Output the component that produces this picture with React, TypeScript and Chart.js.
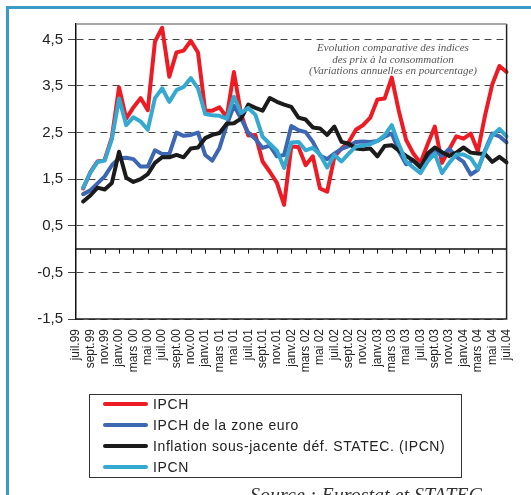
import React, { useEffect, useRef } from 'react';
import { Chart, registerables } from 'chart.js';

Chart.register(...registerables);

const months = [
  'juil.99', 'août 99', 'sept.99', 'oct.99', 'nov.99', 'déc.99',
  'janv.00', 'févr.00', 'mars 00', 'avr.00', 'mai 00', 'juin 00',
  'juil.00', 'août 00', 'sept.00', 'oct.00', 'nov.00', 'déc.00',
  'janv.01', 'févr.01', 'mars 01', 'avr.01', 'mai 01', 'juin 01',
  'juil.01', 'août 01', 'sept.01', 'oct.01', 'nov.01', 'déc.01',
  'janv.02', 'févr.02', 'mars 02', 'avr.02', 'mai 02', 'juin 02',
  'juil.02', 'août 02', 'sept.02', 'oct.02', 'nov.02', 'déc.02',
  'janv.03', 'févr.03', 'mars 03', 'avr.03', 'mai 03', 'juin 03',
  'juil.03', 'août 03', 'sept.03', 'oct.03', 'nov.03', 'déc.03',
  'janv.04', 'févr.04', 'mars 04', 'avr.04', 'mai 04', 'juin 04',
  'juil.04',
];

const ipch = [null, 1.3, 1.65, 1.88, 1.92, 2.4, 3.47, 2.8, 3.04, 3.24, 2.98, 4.45, 4.75, 3.7, 4.22, 4.26, 4.47, 4.22, 2.97, 2.97, 3.04, 2.83, 3.8, 2.9, 2.44, 2.45, 1.88, 1.66, 1.42, 0.95, 2.2, 2.19, 1.8, 1.99, 1.3, 1.23, 1.98, 2.16, 2.3, 2.56, 2.66, 2.82, 3.21, 3.23, 3.68, 2.95, 2.34, 2.05, 1.85, 2.25, 2.63, 1.85, 2.14, 2.42, 2.37, 2.48, 2.1, 2.87, 3.53, 3.93, 3.8];

const ipchZoneEuro = [null, 1.18, 1.26, 1.41, 1.56, 1.8, 1.95, 1.96, 1.93, 1.77, 1.77, 2.12, 2.04, 2.04, 2.5, 2.43, 2.45, 2.5, 2.02, 1.9, 2.17, 2.66, 3.08, 2.8, 2.5, 2.36, 2.17, 2.22, 1.99, 2.02, 2.64, 2.55, 2.51, 2.3, 2.01, 1.93, 2.05, 2.15, 2.21, 2.3, 2.31, 2.3, 2.32, 2.41, 2.48, 2.1, 1.82, 1.9, 1.76, 1.98, 2.12, 2.0, 2.15, 1.98, 1.87, 1.6, 1.7, 2.12, 2.48, 2.42, 2.29];

const inflationSousJacente = [null, 1.02, 1.15, 1.32, 1.28, 1.42, 2.09, 1.53, 1.44, 1.5, 1.61, 1.85, 1.97, 1.97, 2.02, 1.97, 2.16, 2.18, 2.38, 2.45, 2.49, 2.69, 2.7, 2.8, 3.1, 3.03, 2.97, 3.24, 3.16, 3.1, 3.05, 2.82, 2.78, 2.61, 2.59, 2.45, 2.63, 2.3, 2.26, 2.16, 2.14, 2.16, 1.99, 2.21, 2.23, 2.11, 2.0, 1.9, 1.75, 2.05, 2.18, 2.08, 2.0, 2.07, 2.18, 2.07, 2.05, 2.04, 1.87, 1.98, 1.86];

const ipcn = [null, 1.32, 1.64, 1.87, 1.9, 2.36, 3.23, 2.66, 2.83, 2.74, 2.56, 3.24, 3.45, 3.16, 3.41, 3.48, 3.67, 3.45, 2.9, 2.87, 2.86, 2.8, 3.27, 2.92, 3.03, 2.88, 2.41, 2.26, 2.11, 1.74, 2.29, 2.3, 2.12, 2.17, 2.03, 1.75, 2.02, 1.88, 2.05, 2.2, 2.22, 2.25, 2.32, 2.44, 2.66, 2.24, 1.88, 1.75, 1.63, 1.88, 2.05, 1.63, 1.85, 2.03, 2.03, 1.95, 1.72, 2.1, 2.44, 2.58, 2.42];

const seriesLabels = [
  'IPCH',
  'IPCH de la zone euro',
  'Inflation sous-jacente déf. STATEC. (IPCN)',
  'IPCN',
];
const seriesData = [ipch, ipchZoneEuro, inflationSousJacente, ipcn];
const seriesColors = ['#ed1c24', '#3d66b3', '#1b1b1b', '#36a9d1'];

const yTicks = [-1.5, -0.5, 0.5, 1.5, 2.5, 3.5, 4.5];

const titleLines = [
  'Evolution comparative des indices',
  'des prix à la consommation',
  '(Variations annuelles en pourcentage)',
];
const sourceText = 'Source : Eurostat et STATEC';

const framePlugin = {
  id: 'frame',
  afterDraw(chart: any) {
    const { ctx, chartArea, scales } = chart;
    const { left, right, top, bottom } = chartArea;
    const xs = scales.x;
    const ys = scales.y;
    const y0 = ys.getPixelForValue(0);
    ctx.save();
    ctx.strokeStyle = '#111';
    ctx.lineWidth = 1.5;
    ctx.beginPath();
    ctx.moveTo(left, y0);
    ctx.lineTo(right, y0);
    ctx.stroke();
    ctx.lineWidth = 1;
    ctx.beginPath();
    for (let i = 2; i < months.length - 1; i += 2) {
      const px = Math.round(xs.getPixelForValue(i)) + 0.5;
      ctx.moveTo(px, y0);
      ctx.lineTo(px, y0 + 4.5);
    }
    ctx.stroke();
    ctx.lineWidth = 1.5;
    ctx.strokeStyle = '#222';
    ctx.beginPath();
    ctx.moveTo(left, bottom);
    ctx.lineTo(right, bottom);
    ctx.lineTo(right, top);
    ctx.stroke();
    ctx.strokeStyle = '#8a8a8a';
    ctx.beginPath();
    ctx.moveTo(left, top);
    ctx.lineTo(right, top);
    ctx.stroke();
    ctx.restore();
  },
};

function InflationChart() {
  const canvasRef = useRef<HTMLCanvasElement | null>(null);

  useEffect(() => {
    const canvas = canvasRef.current;
    if (!canvas) return;
    const chart = new Chart(canvas, {
      type: 'line',
      data: {
        labels: months,
        datasets: seriesData.map((d, i) => ({
          label: seriesLabels[i],
          data: d,
          borderColor: seriesColors[i],
          backgroundColor: seriesColors[i],
          borderWidth: 4,
          tension: 0,
          pointRadius: 0,
          borderJoinStyle: 'round',
          borderCapStyle: 'round',
          fill: false,
          order: seriesData.length - i,
        })),
      },
      options: {
        animation: false,
        responsive: false,
        devicePixelRatio: 1,
        layout: { padding: { left: 0, right: 24, top: 24, bottom: 0 } },
        plugins: {
          legend: { display: false },
          tooltip: { enabled: false },
          title: { display: false },
        },
        scales: {
          x: {
            type: 'category',
            offset: false,
            grid: { display: false, drawTicks: false },
            border: { display: false },
            ticks: {
              autoSkip: false,
              minRotation: 90,
              maxRotation: 90,
              padding: 10,
              color: '#222',
              font: { family: 'Liberation Sans', size: 12 },
              callback: (_v: any, i: number) => (i % 2 === 0 ? months[i] : ''),
            },
            afterFit: (s: any) => {
              s.height = 176;
            },
          },
          y: {
            min: -1.5,
            max: 4.83,
            afterBuildTicks: (s: any) => {
              s.ticks = yTicks.map((v) => ({ value: v }));
            },
            afterFit: (s: any) => {
              s.width = 76;
            },
            grid: {
              color: '#444',
              lineWidth: 1,
              drawTicks: true,
              tickLength: 8,
              tickColor: '#444',
            },
            border: { display: true, color: '#111', width: 1.5, dash: [7, 5] },
            ticks: {
              padding: 5,
              color: '#222',
              font: { family: 'Liberation Sans', size: 15 },
              callback: (v: any) => Number(v).toFixed(1).replace('.', ','),
            },
          },
        },
      } as any,
      plugins: [framePlugin],
    });
    return () => chart.destroy();
  }, []);

  return (
    <canvas
      ref={canvasRef}
      width={531}
      height={495}
      style={{ position: 'absolute', left: 0, top: 0, width: 531, height: 495, display: 'block' }}
    />
  );
}

export default function App() {
  const rowCenters = [403.5, 424.5, 445.5, 466.5];
  return (
    <div
      style={{
        position: 'fixed',
        left: 0,
        top: 0,
        width: 531,
        height: 495,
        overflow: 'hidden',
        background: '#fff',
      }}
    >
      <div
        style={{
          position: 'absolute',
          left: 6,
          top: 6,
          width: 700,
          height: 700,
          borderLeft: '3px solid #3a9cc6',
          borderTop: '3px solid #3a9cc6',
        }}
      />
      <InflationChart />
      <div
        style={{
          position: 'absolute',
          left: 283,
          top: 42,
          width: 220,
          textAlign: 'center',
          fontFamily: '"Liberation Serif", serif',
          fontStyle: 'italic',
          fontSize: 11,
          lineHeight: '11.7px',
          color: '#555',
          whiteSpace: 'nowrap',
        }}
      >
        {titleLines.map((t, i) => (
          <div key={i}>{t}</div>
        ))}
      </div>
      <div
        style={{
          position: 'absolute',
          left: 89,
          top: 394,
          width: 373,
          height: 84,
          boxSizing: 'border-box',
          border: '1px solid #333',
          background: '#fff',
        }}
      >
        {seriesLabels.map((label, i) => (
          <div
            key={i}
            style={{
              position: 'absolute',
              left: 13,
              top: rowCenters[i] - 394 - 1 - 8,
              height: 16,
              display: 'flex',
              alignItems: 'center',
              whiteSpace: 'nowrap',
            }}
          >
            <div
              style={{
                width: 45,
                height: 4,
                borderRadius: 2,
                background: seriesColors[i],
                marginRight: 5,
              }}
            />
            <span
              style={{
                fontFamily: '"Liberation Sans", Arial, sans-serif',
                fontSize: 14,
                letterSpacing: '0.6px',
                lineHeight: '16px',
                color: '#222',
              }}
            >
              {label}
            </span>
          </div>
        ))}
      </div>
      <div
        style={{
          position: 'absolute',
          left: 250,
          top: 484.5,
          fontFamily: '"Liberation Serif", serif',
          fontStyle: 'italic',
          fontSize: 20,
          lineHeight: '20px',
          color: '#333',
          whiteSpace: 'nowrap',
        }}
      >
        {sourceText}
      </div>
    </div>
  );
}
